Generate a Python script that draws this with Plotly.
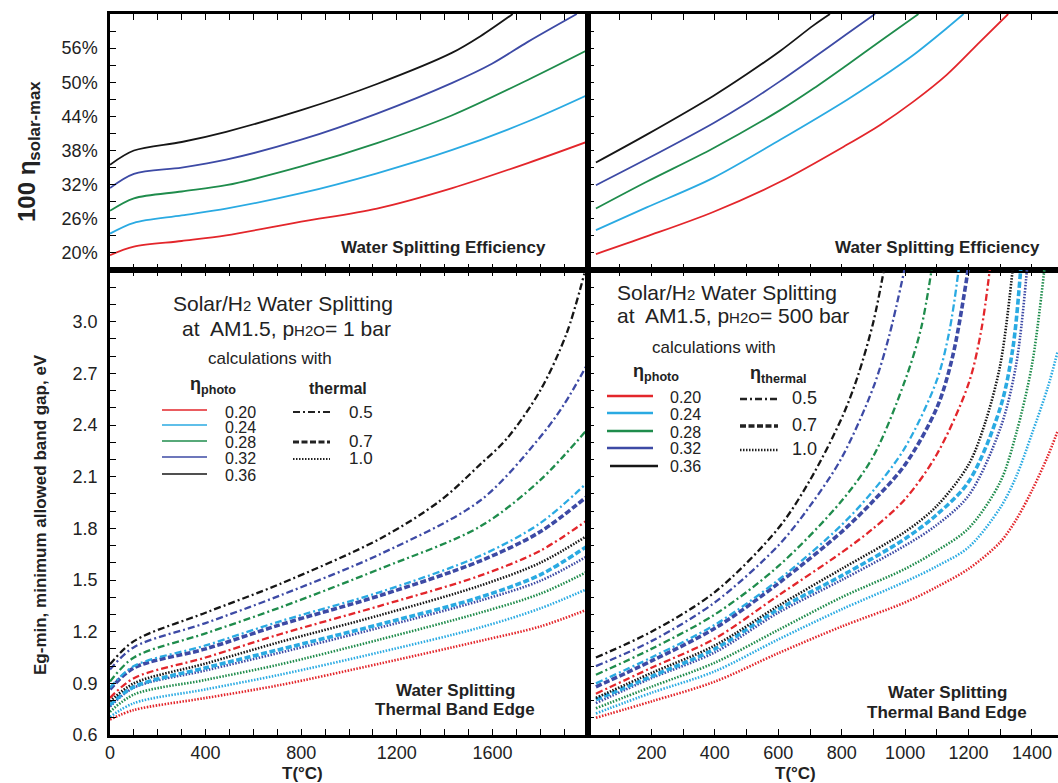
import plotly.graph_objects as go

# ---------------- data ----------------
# top-left panel: efficiency (%) vs T, pH2O = 1 bar
t1_T_a = [0, 100, 300, 486, 800, 1117, 1432, 1748, 2000]
t1_eff_020 = [19.6, 21.1, 22.1, 23.1, 25.5, 27.8, 31.4, 35.8, 39.6]
t1_eff_024 = [23.4, 25.3, 26.6, 27.8, 30.5, 34.0, 38.1, 43.1, 47.8]
t1_eff_028 = [27.4, 29.6, 30.8, 31.9, 35.2, 39.3, 44.2, 50.4, 55.7]
t1_T_032 = [0, 100, 300, 486, 800, 1117, 1432, 1600, 1748, 1953]
t1_eff_032 = [31.4, 33.9, 35.0, 36.4, 39.9, 44.5, 49.9, 53.3, 57.1, 62.0]
t1_T_036 = [0, 100, 300, 486, 800, 1117, 1432, 1550, 1685]
t1_eff_036 = [35.5, 38.0, 39.5, 41.3, 45.1, 49.7, 55.2, 58.1, 62.0]

# top-right panel: efficiency (%) vs T, pH2O = 500 bar
t5_T_020 = [25, 185, 395, 606, 816, 921, 1026, 1131, 1236, 1325]
t5_eff_020 = [19.8, 22.9, 27.2, 32.5, 39.0, 42.5, 46.6, 51.3, 57.1, 62.0]
t5_T_024 = [25, 185, 395, 606, 816, 921, 1026, 1131, 1184]
t5_eff_024 = [24.0, 28.0, 33.2, 39.9, 46.9, 50.7, 54.8, 59.5, 62.0]
t5_T_028 = [25, 185, 395, 606, 711, 816, 921, 1042]
t5_eff_028 = [27.8, 32.5, 38.4, 45.1, 48.9, 53.0, 57.2, 62.0]
t5_T_032 = [25, 185, 395, 500, 606, 711, 816, 905]
t5_eff_032 = [31.9, 36.5, 42.8, 46.3, 50.2, 54.3, 58.5, 62.0]
t5_T_036 = [25, 185, 395, 500, 606, 711, 763]
t5_eff_036 = [35.9, 40.8, 47.6, 51.4, 55.5, 60.0, 62.0]

# bottom-left panel: Eg-min (eV) vs T, pH2O = 1 bar
b1_T = [0, 100, 400, 711, 1130, 1548, 1800, 2000]
b1_036_05_T = [0, 100, 400, 711, 1130, 1381, 1548, 1660, 1800, 1910, 1985]
b1_036_05 = [1.01, 1.145, 1.31, 1.477, 1.74, 1.96, 2.17, 2.32, 2.60, 2.93, 3.28]
b1_032_05_T = [0, 100, 400, 711, 1130, 1548, 1800, 1900, 2000]
b1_032_05 = [0.98, 1.11, 1.25, 1.41, 1.65, 1.96, 2.33, 2.52, 2.76]
b1_028_05 = [0.91, 1.05, 1.19, 1.34, 1.565, 1.81, 2.08, 2.38]
b1_024_05 = [0.875, 1.00, 1.12, 1.26, 1.43, 1.64, 1.83, 2.07]
b1_032_07 = [0.865, 0.99, 1.10, 1.24, 1.41, 1.61, 1.78, 1.99]
b1_020_05 = [0.815, 0.93, 1.05, 1.185, 1.35, 1.525, 1.67, 1.85]
b1_036_10 = [0.795, 0.90, 1.015, 1.14, 1.296, 1.467, 1.60, 1.76]
b1_024_07 = [0.775, 0.88, 0.99, 1.097, 1.243, 1.40, 1.53, 1.70]
b1_032_10 = [0.765, 0.875, 0.975, 1.078, 1.224, 1.38, 1.495, 1.64]
b1_028_10 = [0.735, 0.835, 0.92, 1.01, 1.155, 1.31, 1.42, 1.55]
b1_024_10 = [0.705, 0.785, 0.865, 0.95, 1.081, 1.224, 1.335, 1.45]
b1_020_10 = [0.69, 0.745, 0.815, 0.89, 1.015, 1.146, 1.23, 1.33]

# bottom-right panel: Eg-min (eV) vs T, pH2O = 500 bar
b5_036_05_T = [25, 200, 400, 600, 700, 800, 850, 900, 935]
b5_036_05 = [1.05, 1.20, 1.43, 1.80, 2.08, 2.44, 2.68, 3.00, 3.32]
b5_032_05_T = [25, 200, 400, 600, 700, 800, 900, 950, 1000]
b5_032_05 = [1.00, 1.145, 1.37, 1.70, 1.93, 2.21, 2.62, 2.92, 3.32]
b5_028_05_T = [25, 200, 400, 600, 800, 900, 1000, 1050, 1085]
b5_028_05 = [0.95, 1.10, 1.30, 1.58, 1.96, 2.22, 2.66, 2.96, 3.32]
b5_024_05_T = [25, 200, 400, 600, 800, 900, 1000, 1100, 1140, 1170]
b5_024_05 = [0.90, 1.05, 1.24, 1.50, 1.82, 2.02, 2.27, 2.66, 2.95, 3.32]
b5_032_07_T = [25, 200, 400, 600, 800, 900, 1000, 1100, 1150, 1200]
b5_032_07 = [0.88, 1.03, 1.22, 1.48, 1.78, 1.96, 2.17, 2.50, 2.80, 3.32]
b5_020_05_T = [25, 200, 400, 600, 800, 900, 1000, 1100, 1200, 1240, 1268]
b5_020_05 = [0.84, 0.99, 1.16, 1.41, 1.66, 1.80, 1.97, 2.23, 2.64, 2.95, 3.32]
b5_036_10_T = [25, 200, 400, 600, 800, 1000, 1100, 1200, 1250, 1300, 1340]
b5_036_10 = [0.815, 0.96, 1.12, 1.35, 1.565, 1.78, 1.93, 2.17, 2.40, 2.75, 3.32]
b5_024_07_T = [25, 200, 400, 600, 800, 1000, 1100, 1200, 1300, 1340, 1365]
b5_024_07 = [0.805, 0.94, 1.10, 1.33, 1.525, 1.74, 1.88, 2.07, 2.50, 2.85, 3.32]
b5_032_10_T = [25, 200, 400, 600, 800, 1000, 1100, 1200, 1300, 1350, 1385]
b5_032_10 = [0.785, 0.93, 1.08, 1.31, 1.50, 1.70, 1.82, 1.99, 2.38, 2.75, 3.32]
b5_028_10_T = [25, 200, 400, 600, 800, 1000, 1100, 1200, 1300, 1350, 1400, 1440]
b5_028_10 = [0.755, 0.88, 1.02, 1.21, 1.40, 1.565, 1.67, 1.80, 2.07, 2.35, 2.75, 3.32]
b5_024_10_T = [25, 200, 400, 600, 800, 1000, 1100, 1200, 1300, 1350, 1400, 1450, 1480]
b5_024_10 = [0.725, 0.845, 0.97, 1.155, 1.33, 1.49, 1.58, 1.69, 1.92, 2.10, 2.35, 2.62, 2.82]
b5_020_10_T = [25, 200, 400, 600, 800, 1000, 1100, 1200, 1300, 1350, 1400, 1450, 1480]
b5_020_10 = [0.70, 0.795, 0.91, 1.075, 1.23, 1.37, 1.46, 1.565, 1.72, 1.85, 2.02, 2.22, 2.36]

eta_photo_labels = ["0.20", "0.24", "0.28", "0.32", "0.36"]
eta_thermal_labels = ["0.5", "0.7", "1.0"]
top_tick_vals = [20, 26, 32, 38, 44, 50, 56]
top_tick_text = ["20%", "26%", "32%", "38%", "44%", "50%", "56%"]
bot_tick_vals = [0.6, 0.9, 1.2, 1.5, 1.8, 2.1, 2.4, 2.7, 3.0]
bot_tick_text = ["0.6", "0.9", "1.2", "1.5", "1.8", "2.1", "2.4", "2.7", "3.0"]
left_x_tick_vals = [0, 400, 800, 1200, 1600]
right_x_tick_vals = [200, 400, 600, 800, 1000, 1200, 1400]

# ---------------- styles ----------------
RED, CYAN, GREEN, BLUE, BLACK = "#e3262b", "#2aaae2", "#1f8c4c", "#3d4aa5", "#161616"
PHOTO_COLORS = [RED, CYAN, GREEN, BLUE, BLACK]
DASHDOT = "7px,3px,2px,3px"
DASHED = "6px,2.5px"
DOTTED = "1.5px,1.5px"
STY = {"0.5": (DASHDOT, 2.3), "0.7": (DASHED, 3.6), "1.0": (DOTTED, 2.6)}

FONT = "Liberation Sans, Arial, sans-serif"
W, H = 1058, 783
ML, MR, MT, MB = 110, 0, 14, 48
PW, PH = W - ML - MR, H - MT - MB
XS = (588 - ML) / PW
YS = (H - MB - 270) / PH
XR_MAX = 1482


def px(x):
    return (x - ML) / PW


def py(y):
    return (H - MB - y) / PH


fig = go.Figure()


def add(T, V, color, dash, width, xa, ya):
    fig.add_trace(go.Scatter(
        x=T, y=V, mode="lines", xaxis=xa, yaxis=ya, showlegend=False, hoverinfo="skip",
        line=dict(color=color, dash=dash, width=width, shape="spline", smoothing=0.9)))


# top panels
for T, V, c in [(t1_T_a, t1_eff_020, RED), (t1_T_a, t1_eff_024, CYAN), (t1_T_a, t1_eff_028, GREEN),
                (t1_T_032, t1_eff_032, BLUE), (t1_T_036, t1_eff_036, BLACK)]:
    add(T, V, c, "solid", 1.8, "x", "y")
for T, V, c in [(t5_T_020, t5_eff_020, RED), (t5_T_024, t5_eff_024, CYAN), (t5_T_028, t5_eff_028, GREEN),
                (t5_T_032, t5_eff_032, BLUE), (t5_T_036, t5_eff_036, BLACK)]:
    add(T, V, c, "solid", 1.8, "x2", "y2")

# bottom-left
bl = [
    (b1_T, b1_020_10, RED, "1.0"), (b1_T, b1_024_10, CYAN, "1.0"), (b1_T, b1_028_10, GREEN, "1.0"),
    (b1_T, b1_032_10, BLUE, "1.0"), (b1_T, b1_024_07, CYAN, "0.7"), (b1_T, b1_036_10, BLACK, "1.0"),
    (b1_T, b1_020_05, RED, "0.5"), (b1_T, b1_032_07, BLUE, "0.7"), (b1_T, b1_024_05, CYAN, "0.5"),
    (b1_T, b1_028_05, GREEN, "0.5"), (b1_032_05_T, b1_032_05, BLUE, "0.5"),
    (b1_036_05_T, b1_036_05, BLACK, "0.5"),
]
for T, V, c, k in bl:
    add(T, V, c, STY[k][0], STY[k][1], "x3", "y3")

# bottom-right
br = [
    (b5_020_10_T, b5_020_10, RED, "1.0"), (b5_024_10_T, b5_024_10, CYAN, "1.0"),
    (b5_028_10_T, b5_028_10, GREEN, "1.0"), (b5_032_10_T, b5_032_10, BLUE, "1.0"),
    (b5_024_07_T, b5_024_07, CYAN, "0.7"), (b5_036_10_T, b5_036_10, BLACK, "1.0"),
    (b5_020_05_T, b5_020_05, RED, "0.5"), (b5_032_07_T, b5_032_07, BLUE, "0.7"),
    (b5_024_05_T, b5_024_05, CYAN, "0.5"), (b5_028_05_T, b5_028_05, GREEN, "0.5"),
    (b5_032_05_T, b5_032_05, BLUE, "0.5"), (b5_036_05_T, b5_036_05, BLACK, "0.5"),
]
for T, V, c, k in br:
    add(T, V, c, STY[k][0], STY[k][1], "x4", "y4")

# ---------------- axes ----------------
tickfont = dict(family=FONT, size=18, color="#222")


def ax(minor_dtick, minor_tick0, **kw):
    d = dict(ticks="inside", ticklen=6, tickwidth=1.4, tickcolor="black", showline=True,
             linewidth=2.5, linecolor="black", showgrid=False, zeroline=False, tickfont=tickfont,
             automargin=False,
             minor=dict(ticks="inside", ticklen=6, tickwidth=1.4, tickcolor="black",
                        dtick=minor_dtick, tick0=minor_tick0, showgrid=False))
    d.update(kw)
    return d


fig.update_layout(
    width=W, height=H, margin=dict(l=ML, r=MR, t=MT, b=MB, autoexpand=False),
    paper_bgcolor="white", plot_bgcolor="white", showlegend=False,
    xaxis=ax(100, 0, domain=[0, XS], range=[0, 2000], anchor="y", tickvals=left_x_tick_vals,
             showticklabels=False, mirror="ticks"),
    yaxis=ax(3, 17, domain=[YS, 1], range=[17, 62], anchor="x", tickvals=top_tick_vals,
             ticktext=top_tick_text, mirror=True, ticklabelstandoff=6),
    xaxis2=ax(100, 0, domain=[XS, 1], range=[0, XR_MAX], anchor="y2", tickvals=right_x_tick_vals,
              showticklabels=False, mirror="ticks"),
    yaxis2=ax(3, 17, domain=[YS, 1], range=[17, 62], anchor="x2", tickvals=top_tick_vals,
              showticklabels=False),
    xaxis3=ax(100, 0, domain=[0, XS], range=[0, 2000], anchor="y3", tickvals=left_x_tick_vals,
              mirror="ticks", ticklabelstandoff=0),
    yaxis3=ax(0.1, 0.6, domain=[0, YS], range=[0.6, 3.3], anchor="x3", tickvals=bot_tick_vals,
              ticktext=bot_tick_text, mirror=True, ticklabelstandoff=6),
    xaxis4=ax(100, 0, domain=[XS, 1], range=[0, XR_MAX], anchor="y4", tickvals=right_x_tick_vals,
              mirror="ticks", ticklabelstandoff=0),
    yaxis4=ax(0.1, 0.6, domain=[0, YS], range=[0.6, 3.3], anchor="x4", tickvals=bot_tick_vals,
              showticklabels=False),
)

# ---------------- annotations ----------------
ann = []


def text(x, y, s, size, bold=False, xanchor="center", angle=0, color="#222"):
    ann.append(dict(x=px(x), y=py(y), xref="paper", yref="paper", text=(f"<b>{s}</b>" if bold else s),
                    showarrow=False, xanchor=xanchor, yanchor="middle", textangle=angle,
                    font=dict(family=FONT, size=size, color=color)))


# axis titles
text(28, 152, "100 η<sub>solar-max</sub>", 24, bold=True, angle=-90)
text(40, 515, "Eg-min, minimum allowed band gap, eV", 17, bold=True, angle=-90)
text(302, 773, "T(°C)", 17, bold=True)
text(795, 773, "T(°C)", 17, bold=True)

# panel captions
text(548, 248, "Water Splitting Efficiency", 17, bold=True, xanchor="right")
text(1042, 248, "Water Splitting Efficiency", 17, bold=True, xanchor="right")
text(455, 690, "Water Splitting", 17, bold=True)
text(455, 709, "Thermal Band Edge", 17, bold=True)
text(947, 692, "Water Splitting", 17, bold=True)
text(947, 712, "Thermal Band Edge", 17, bold=True)

small = "<span style='font-size:15px'>"
# left legend block
text(283, 303, f"Solar/H{small}2</span> Water Splitting", 21)
text(286, 328, f"at\u00a0 AM1.5, p{small}H2O</span>= 1 bar", 21)
text(270, 358, "calculations with", 17)
text(213, 385, "η<sub>photo</sub>", 18, bold=True)
text(338, 388, "thermal", 16, bold=True)
left_rows_y = [412, 427, 443, 459, 476]
for lab, yv in zip(eta_photo_labels, left_rows_y):
    text(223, yv, lab, 16, xanchor="left")
left_th_y = [412, 442, 459]
for lab, yv in zip(eta_thermal_labels, left_th_y):
    text(347, yv, lab, 17, xanchor="left")

# right legend block
text(615, 292, f"Solar/H{small}2</span> Water Splitting", 21, xanchor="left")
text(615, 315, f"at\u00a0 AM1.5, p{small}H2O</span>= 500 bar", 21, xanchor="left")
text(714, 347, "calculations with", 17)
text(656, 372, "η<sub>photo</sub>", 18, bold=True)
text(778, 374, "η<sub>thermal</sub>", 18, bold=True)
right_rows_y = [397, 414, 432, 449, 467]
for lab, yv in zip(eta_photo_labels, right_rows_y):
    text(668, yv, lab, 16, xanchor="left")
right_th_y = [398, 425, 449]
for lab, yv in zip(eta_thermal_labels, right_th_y):
    text(790, yv, lab, 18, xanchor="left")

fig.update_layout(annotations=ann)

# legend sample lines
shapes = []


def seg(x0, x1, y, color, dash, width):
    shapes.append(dict(type="line", xref="paper", yref="paper", x0=px(x0), x1=px(x1), y0=py(y), y1=py(y),
                       line=dict(color=color, dash=dash, width=width)))


for c, yv in zip(PHOTO_COLORS, left_rows_y):
    seg(162, 207, yv - 2, c, "solid", 1.3)
for k, yv in zip(eta_thermal_labels, left_th_y):
    seg(293, 330, yv, "#222", STY[k][0], STY[k][1] * 0.8)
for i, (c, yv) in enumerate(zip(PHOTO_COLORS, right_rows_y)):
    x0, x1 = (610, 658) if i == 4 else (607, 653)
    seg(x0, x1, yv - 1, c, "solid", 2.6)
for k, yv in zip(eta_thermal_labels, right_th_y):
    seg(740, 778, yv + 1, "#222", STY[k][0], STY[k][1])

fig.update_layout(shapes=shapes)

fig.write_html("out.html", config={"displayModeBar": False},
               post_script="document.body.style.margin='0';document.body.style.overflow='hidden';")
